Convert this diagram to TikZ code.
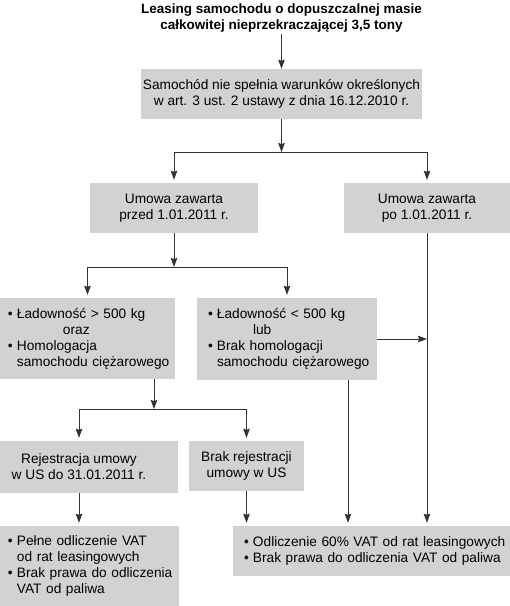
\documentclass[tikz,border=0pt]{standalone}
\usepackage{fontspec}
\setmainfont{Liberation Sans}
\usetikzlibrary{arrows.meta}
\definecolor{boxgray}{RGB}{210,210,210}
\newcommand\bl{\makebox[9pt][l]{•}}
\begin{document}
\begin{tikzpicture}[x=1pt,y=-1pt,
  box/.style={fill=boxgray,draw=none,inner sep=0pt,font=\fontsize{13.7}{16}\selectfont,align=center},
  lbox/.style={box,align=left},
  arr/.style={draw=black!80,line width=1pt,-{Stealth[length=9pt,width=6.5pt,inset=1pt]}}]
\useasboundingbox (0,0) rectangle (510,606);
\fill[white] (0,0) rectangle (510,606);
\node[font=\bfseries\fontsize{13.5}{16}\selectfont,align=center,inner sep=2pt] (t) at (281.5,18)
  {Leasing samochodu o dopuszczalnej masie\\całkowitej nieprzekraczającej 3,5 tony};
\node[box,minimum width=281,minimum height=50] (b1) at (281.5,94)
  {Samochód nie spełnia warunków określonych\\w art. 3 ust. 2 ustawy z dnia 16.12.2010 r.};
\node[box,minimum width=168,minimum height=50] (b2) at (174,208)
  {Umowa zawarta\\przed 1.01.2011 r.};
\node[box,minimum width=166,minimum height=50] (b3) at (427,208)
  {Umowa zawarta\\po 1.01.2011 r.};
\node[lbox,text width=159,inner xsep=8,minimum height=81] (b4) at (87.5,338.5)
  {\mbox{\bl Ładowność > 500 kg}\\\mbox{\hspace*{55pt}oraz}\\\mbox{\bl Homologacja}\\\mbox{\hspace*{9pt}samochodu ciężarowego}};
\node[lbox,text width=158,inner xsep=11,minimum height=82] (b5) at (287,339)
  {\mbox{\bl Ładowność < 500 kg}\\\mbox{\hspace*{45pt}lub}\\\mbox{\bl Brak homologacji}\\\mbox{\hspace*{9pt}samochodu ciężarowego}};
\node[box,minimum width=198,minimum height=52] (b6) at (79,467)
  {Rejestracja umowy\\w US do 31.01.2011 r.};
\node[box,minimum width=115,minimum height=50] (br) at (246.5,466)
  {Brak rejestracji\\umowy w US};
\node[lbox,text width=163,inner xsep=8,minimum height=80] (b8) at (89.5,566)
  {\mbox{\bl Pełne odliczenie VAT}\\\mbox{\hspace*{9pt}od rat leasingowych}\\\mbox{\bl Brak prawa do odliczenia}\\\mbox{\hspace*{9pt}VAT od paliwa}};
\node[lbox,text width=255,inner xsep=11,minimum height=50] (b7) at (371.5,551)
  {\mbox{\bl Odliczenie 60\% VAT od rat leasingowych}\\\mbox{\bl Brak prawa do odliczenia VAT od paliwa}};
% connectors
\draw[arr] (t.south) -- (b1.north);
\coordinate (j1) at (281.5,152);
\draw[arr] (b1.south) -- (j1);
\draw[arr,shorten >=3pt] (j1) -| (b2.north);
\draw[arr,shorten >=3pt] (j1) -| (b3.north);
\coordinate (j2) at (174,267);
\draw[arr] (b2.south) -- (j2);
\draw[arr,shorten >=3pt] (j2) -| (b4.north);
\draw[arr,shorten >=3pt] (j2) -| (b5.north);
\draw[arr,shorten >=3pt] (b3.south) -- (b3.south |- b7.north);
\draw[arr] (b5.east) -- (b5.east -| b3.south);
\draw[arr,shorten >=3pt] ([xshift=61pt]b5.south) -- ([xshift=61pt]b5.south |- b7.north);
\coordinate (j3) at (154,409);
\draw[arr] ([xshift=66.5pt]b4.south) -- (j3);
\draw[arr,shorten >=3pt] (j3) -| (b6.north);
\draw[arr,shorten >=3pt] (j3) -| (br.north);
\draw[arr,shorten >=3pt] (b6.south) -- (b6.south |- b8.north);
\draw[arr,shorten >=3pt] (br.south) -- (br.south |- b7.north);
\end{tikzpicture}
\end{document}
